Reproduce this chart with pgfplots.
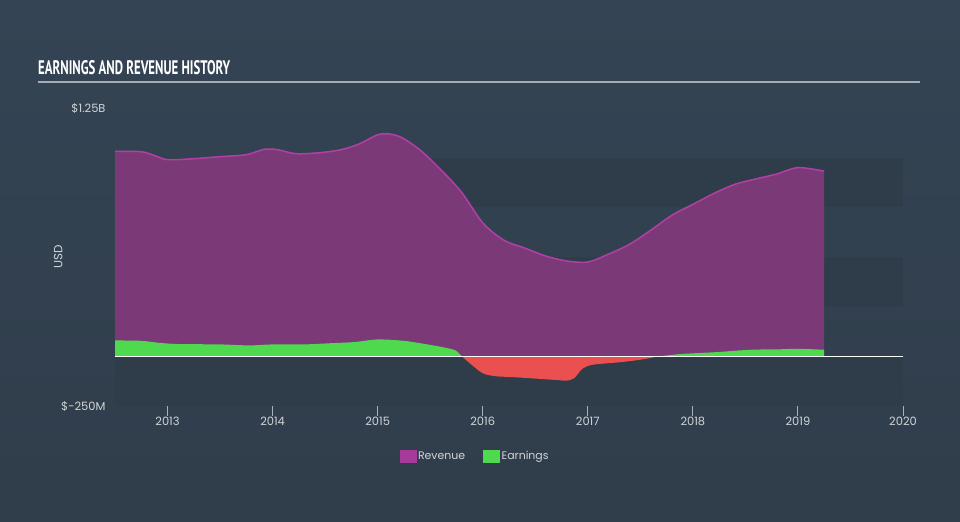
\documentclass[border=0pt]{standalone}
\usepackage{fontspec}
\setmainfont{Poppins}
\newfontfamily\titlefont{PT Sans}
\usepackage{graphicx}
\usepackage{pgfplots}
\usepackage{pgfplotstable}
\pgfplotsset{compat=1.18}

\definecolor{bgtop}{HTML}{344454}
\definecolor{bgbot}{HTML}{303D4B}
\definecolor{band}{HTML}{2F3C49}
\definecolor{revfill}{HTML}{7B3A77}
\definecolor{revline}{HTML}{B23FA6}
\definecolor{revleg}{HTML}{A53A9A}
\definecolor{earnpos}{HTML}{4FD94F}
\definecolor{earnneg}{HTML}{EA5050}
\definecolor{axisgrey}{HTML}{A9B0B8}
\definecolor{labelgrey}{HTML}{D0D4D8}
\definecolor{rulegrey}{HTML}{A9ADB2}

% revenue, billions USD
\pgfplotstableread{
x y
2012.50 1.032
2012.75 1.030
2012.88 1.010
2013.00 0.990
2013.25 0.995
2013.50 1.005
2013.75 1.015
2013.92 1.042
2014.05 1.040
2014.22 1.020
2014.45 1.025
2014.65 1.040
2014.82 1.068
2015.02 1.118
2015.20 1.108
2015.40 1.040
2015.60 0.940
2015.80 0.825
2016.00 0.672
2016.20 0.585
2016.40 0.545
2016.60 0.505
2016.80 0.480
2017.00 0.475
2017.20 0.515
2017.40 0.565
2017.60 0.635
2017.80 0.710
2018.00 0.765
2018.20 0.820
2018.40 0.866
2018.60 0.893
2018.80 0.918
2019.00 0.950
2019.25 0.932
}\revenue

% earnings, positive before 2016
\pgfplotstableread{
x y
2012.50 0.080
2012.75 0.078
2012.92 0.068
2013.10 0.062
2013.50 0.060
2013.78 0.055
2014.00 0.060
2014.30 0.060
2014.55 0.066
2014.78 0.072
2015.00 0.085
2015.25 0.078
2015.45 0.062
2015.62 0.046
2015.74 0.030
2015.80 0.000
}\earnA

% earnings, negative stretch
\pgfplotstableread{
x y
2015.80 0.000
2015.90 -0.045
2016.00 -0.085
2016.12 -0.100
2016.30 -0.105
2016.50 -0.112
2016.70 -0.119
2016.80 -0.122
2016.87 -0.110
2016.95 -0.062
2017.05 -0.042
2017.30 -0.030
2017.50 -0.017
2017.68 0.000
}\earnB

% earnings, positive from 2018
\pgfplotstableread{
x y
2017.68 0.000
2017.85 0.010
2018.00 0.015
2018.25 0.022
2018.45 0.030
2018.60 0.034
2018.80 0.035
2019.00 0.038
2019.25 0.033
}\earnC

\begin{document}
\begin{tikzpicture}
\shade[top color=bgtop, bottom color=bgbot] (0bp,0bp) rectangle (960bp,522bp);
\useasboundingbox (0bp,0bp) rectangle (960bp,522bp);
\node[anchor=base west, inner sep=0pt, text=white] at (38bp,447bp)
  {\resizebox{192bp}{14bp}{\titlefont\bfseries EARNINGS AND REVENUE HISTORY}};
\draw[rulegrey, line width=1.5bp] (38bp,440bp) -- (920bp,440bp);

\begin{axis}[
    at={(115bp,116bp)}, anchor=south west,
    scale only axis, width=788bp, height=298bp,
    xmin=2012.5, xmax=2020, ymin=-0.25, ymax=1.25,
    axis x line*=bottom, axis y line*=left,
    x axis line style={draw=axisgrey, line width=1bp},
    y axis line style={draw=none},
    xtick={2013,2014,2015,2016,2017,2018,2019,2020},
    xticklabels={2013,2014,2015,2016,2017,2018,2019,2020},
    xtick align=outside, major tick length=10bp,
    xtick style={draw=axisgrey, line width=1bp},
    ytick={-0.25,1.25}, yticklabels={\$-250M,\$1.25B},
    ytick style={draw=none},
    tick label style={font=\fontsize{11.5}{13}\selectfont, text=labelgrey},
    yticklabel style={xshift=-6bp},
    xticklabel style={inner sep=1bp},
    ylabel={USD},
    ylabel style={at={(axis description cs:-0.072,0.5)}, anchor=center,
      font=\fontsize{12}{14}\selectfont, text=labelgrey},
    legend style={at={(0.457,-0.168)}, anchor=center, draw=none, fill=none,
      legend columns=2, font=\fontsize{11}{13}\selectfont, text=labelgrey,
      /tikz/every even column/.append style={column sep=16bp}},
    legend image code/.code={\fill[#1] (0bp,-6bp) rectangle (16bp,6bp);},
  ]

  % background bands
  \fill[band] (axis cs:2012.5,0.75) rectangle (axis cs:2020,1.0);
  \fill[band] (axis cs:2012.5,0.25) rectangle (axis cs:2020,0.5);
  \fill[band] (axis cs:2012.5,-0.25) rectangle (axis cs:2020,0);

  \addplot[draw=none, fill=revfill, smooth, forget plot] table {\revenue} \closedcycle;
  \addplot[revline, line width=1.5bp, smooth, forget plot] table {\revenue};

  \addplot[draw=none, fill=earnpos, smooth, forget plot] table {\earnA} \closedcycle;
  \addplot[draw=none, fill=earnneg, smooth, forget plot] table {\earnB} \closedcycle;
  \addplot[draw=none, fill=earnpos, smooth, forget plot] table {\earnC} \closedcycle;

  \draw[white, line width=1.2bp] (axis cs:2012.5,0) -- (axis cs:2020,0);

  \addlegendimage{revleg}
  \addlegendentry{Revenue}
  \addlegendimage{earnpos}
  \addlegendentry{Earnings}
\end{axis}
\end{tikzpicture}
\end{document}
